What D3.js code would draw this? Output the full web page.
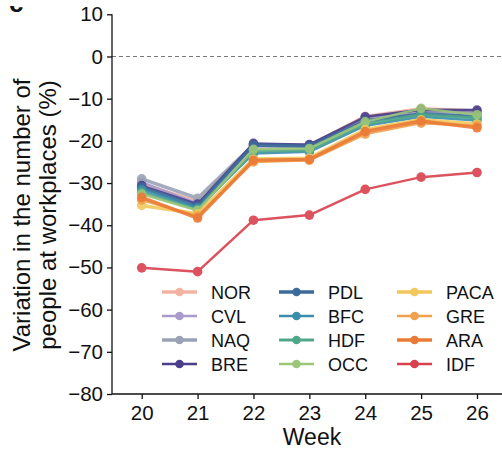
<!DOCTYPE html>
<html>
<head>
<meta charset="utf-8">
<script src="https://cdn.jsdelivr.net/npm/d3@7"></script>
<style>
  html, body { margin: 0; padding: 0; background: #fff; }
  svg { display: block; font-family: "Liberation Sans", Arial, Helvetica, sans-serif; }
</style>
</head>
<body>
<svg id="chart" width="502" height="449"></svg>
<script>
// Weekly variation in workplace attendance by French region (%)
const weeks = [20, 21, 22, 23, 24, 25, 26];
const regions = ["NOR", "CVL", "NAQ", "BRE", "PDL", "BFC", "HDF", "OCC", "PACA", "GRE", "ARA", "IDF"];
const colors = ["#f3b3a3", "#a99bcc", "#9aa2b6", "#4b3f8d", "#3b6a9b", "#3a8eac", "#4fa78a", "#9cc679", "#f2c75c", "#f1a04b", "#ea7a36", "#d9414e"];
const widths = [3.5, 2.5, 3.5, 2.5, 3.5, 2.5, 3, 2.5, 3.5, 2.5, 3.5, 2.5];

const NOR  = [-30.2, -34.4, -21.1, -21.1, -14.2, -12.4, -12.9];
const CVL  = [-29.8, -34.8, -21.3, -21.5, -14.8, -13.0, -13.4];
const NAQ  = [-29.0, -33.6, -20.9, -21.0, -14.6, -12.8, -13.2];
const BRE  = [-30.6, -35.0, -20.6, -20.9, -14.3, -12.6, -12.7];
const PDL  = [-31.0, -35.5, -21.0, -21.3, -15.3, -13.6, -14.2];
const BFC  = [-31.6, -35.9, -23.0, -22.6, -16.4, -14.3, -15.2];
const HDF  = [-32.2, -36.3, -22.4, -22.2, -16.0, -13.8, -14.6];
const OCC  = [-32.6, -36.5, -22.0, -21.8, -15.5, -12.3, -13.8];
const PACA = [-35.3, -37.3, -24.3, -24.1, -17.3, -15.0, -16.0];
const GRE  = [-34.0, -37.8, -25.0, -24.6, -18.4, -15.8, -16.4];
const ARA  = [-33.4, -38.3, -24.6, -24.4, -17.8, -15.3, -16.9];
const IDF  = [-50.1, -51.0, -38.8, -37.6, -31.5, -28.6, -27.5];

const values = [NOR, CVL, NAQ, BRE, PDL, BFC, HDF, OCC, PACA, GRE, ARA, IDF];
const yTicks = [10, 0, -10, -20, -30, -40, -50, -60, -70, -80];

const svg = d3.select("#chart");
const axisX0 = 112, axisY0 = 394;

const x = d3.scaleLinear().domain([20, 26]).range([141.7, 477]);
const y = d3.scaleLinear().domain([-80, 10]).range([394, 14.3]);

// Panel letter, only its lower part falls inside the page
svg.append("clipPath").attr("id", "letterClip")
  .append("rect").attr("x", 0).attr("y", 6).attr("width", 40).attr("height", 20);
svg.append("text").attr("x", 9).attr("y", 12)
  .attr("clip-path", "url(#letterClip)")
  .attr("font-size", 26).attr("font-weight", "bold").attr("fill", "#111").text("c");

// Reference line at zero
svg.append("line")
  .attr("x1", axisX0).attr("x2", 502)
  .attr("y1", y(0)).attr("y2", y(0))
  .attr("stroke", "#777").attr("stroke-width", 1)
  .attr("stroke-dasharray", "4,3");

// Y axis
const yAxis = svg.append("g").attr("transform", `translate(${axisX0},0)`)
  .call(d3.axisLeft(y).tickValues(yTicks).tickSize(5).tickPadding(4)
    .tickFormat(d => d < 0 ? "\u2212" + Math.abs(d) : d));
yAxis.select(".domain").attr("d", `M0,${y(10)}V${axisY0}`).attr("stroke", "#111").attr("stroke-width", 1.3);
yAxis.selectAll(".tick line").attr("stroke", "#111").attr("stroke-width", 1.3);
yAxis.selectAll(".tick text").attr("font-size", 20.5).attr("fill", "#111")
  .attr("font-family", "Liberation Sans, Arial, sans-serif");

// X axis
const xAxis = svg.append("g").attr("transform", `translate(0,${axisY0})`)
  .call(d3.axisBottom(x).tickValues(weeks).tickSize(5).tickPadding(6).tickFormat(d3.format("d")));
xAxis.select(".domain").attr("d", `M${axisX0},0H502`).attr("stroke", "#111").attr("stroke-width", 1.3);
xAxis.selectAll(".tick line").attr("stroke", "#111").attr("stroke-width", 1.3);
xAxis.selectAll(".tick text").attr("font-size", 20.5).attr("fill", "#111")
  .attr("font-family", "Liberation Sans, Arial, sans-serif");

// Axis titles
svg.append("text").attr("x", 312).attr("y", 445).attr("text-anchor", "middle")
  .attr("font-size", 23).attr("fill", "#111").text("Week");
const yTitle = svg.append("text").attr("transform", "translate(0,215) rotate(-90)")
  .attr("text-anchor", "middle").attr("font-size", 24).attr("fill", "#111");
yTitle.append("tspan").attr("x", 0).attr("y", 30).text("Variation in the number of");
yTitle.append("tspan").attr("x", 0).attr("y", 56).text("people at workplaces (%)");

// Series lines and markers
const line = d3.line().x((d, i) => x(weeks[i])).y(d => y(d));
regions.forEach((r, k) => {
  const g = svg.append("g").attr("opacity", 0.9);
  g.append("path").datum(values[k]).attr("d", line)
    .attr("fill", "none").attr("stroke", colors[k]).attr("stroke-width", widths[k])
    .attr("stroke-linejoin", "round");
  g.selectAll("circle").data(values[k]).join("circle")
    .attr("cx", (d, i) => x(weeks[i])).attr("cy", d => y(d))
    .attr("r", 4.8).attr("fill", colors[k]);
});

// Legend: three columns of four entries
const legCols = [162, 279, 397];
const legRows = [292, 316, 340, 364];
regions.forEach((r, k) => {
  const cx = legCols[Math.floor(k / 4)], cy = legRows[k % 4];
  const g = svg.append("g");
  g.append("line").attr("x1", cx).attr("x2", cx + 35).attr("y1", cy).attr("y2", cy)
    .attr("stroke", colors[k]).attr("stroke-width", widths[k]);
  g.append("circle").attr("cx", cx + 17.5).attr("cy", cy).attr("r", 4.3).attr("fill", colors[k]);
  g.append("text").attr("x", cx + 49).attr("y", cy + 6.5)
    .attr("font-size", 18).attr("fill", "#111").text(r);
});
</script>
</body>
</html>
